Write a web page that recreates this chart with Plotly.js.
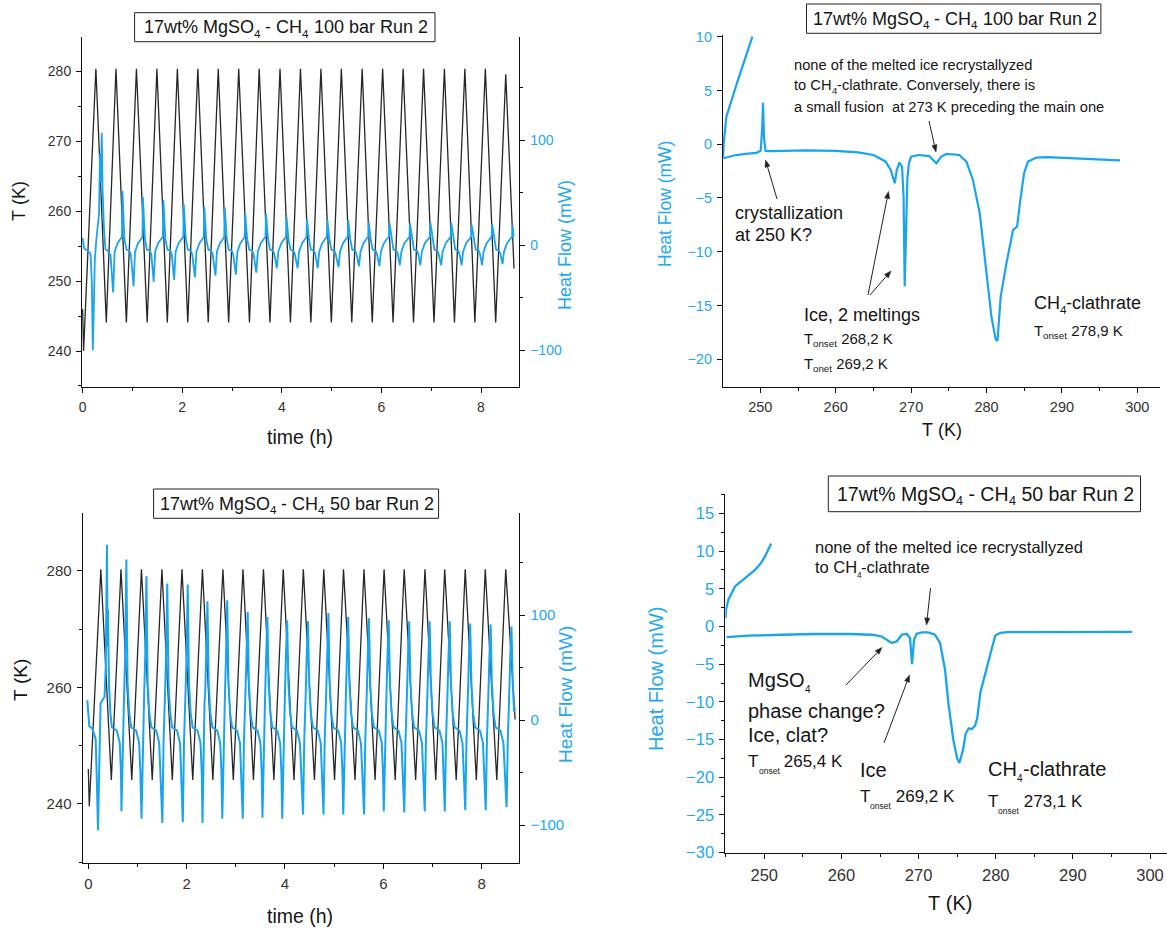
<!DOCTYPE html>
<html><head><meta charset="utf-8">
<script src="https://cdn.plot.ly/plotly-3.0.1.min.js"></script>
<style>html,body{margin:0;padding:0;background:#fff}#chart{width:1167px;height:931px}</style>
</head><body><div id="chart"></div>
<script>
// ---------- Top-left: 100 bar, temperature (K) vs time (h) ----------
const temp100Time = [0, 0.02, 0.267, 0.476, 0.670, 0.879, 1.081, 1.297, 1.492, 1.701, 1.903, 2.112, 2.314, 2.523, 2.724, 2.933, 3.135, 3.351, 3.546, 3.762, 3.964, 4.173, 4.375, 4.584, 4.786, 4.995, 5.196, 5.405, 5.614, 5.816, 6.025, 6.234, 6.436, 6.645, 6.847, 7.056, 7.265, 7.467, 7.676, 7.877, 8.087, 8.295, 8.497, 8.663];
const temp100K = [246, 240, 280.4, 244.1, 280.4, 244.1, 280.4, 244.1, 280.4, 244.1, 280.4, 244.1, 280.4, 244.1, 280.4, 244.1, 280.4, 244.1, 280.4, 244.1, 280.4, 244.1, 280.4, 244.1, 280.4, 244.1, 280.4, 244.1, 280.4, 244.1, 280.4, 244.1, 280.4, 244.1, 280.4, 244.1, 280.4, 244.1, 280.4, 244.1, 280.4, 244.1, 279.6, 251.8];

// ---------- Top-left: 100 bar, heat flow (mW) vs time (h) ----------
const hf100Time = [
0, 0.03, 0.10, 0.16, 0.185, 0.205, 0.225, 0.245, 0.275, 0.33, 0.35, 0.365, 0.385, 0.40, 0.43, 0.46, 0.50, 0.56,
0.613, 0.643, 0.703, 0.763, 0.79, 0.80, 0.84, 0.88, 0.94, 0.97,
1.023, 1.053, 1.113, 1.173, 1.201, 1.211, 1.251, 1.291, 1.351, 1.381,
1.427, 1.457, 1.517, 1.577, 1.612, 1.622, 1.662, 1.702, 1.762, 1.792,
1.838, 1.868, 1.928, 1.988, 2.022, 2.032, 2.072, 2.112, 2.172, 2.202,
2.256, 2.286, 2.346, 2.406, 2.433, 2.443, 2.483, 2.523, 2.583, 2.613,
2.667, 2.697, 2.757, 2.817, 2.844, 2.854, 2.894, 2.934, 2.994, 3.024,
3.078, 3.108, 3.168, 3.228, 3.255, 3.265, 3.305, 3.345, 3.405, 3.435,
3.488, 3.518, 3.578, 3.638, 3.673, 3.683, 3.723, 3.763, 3.823, 3.853,
3.900, 3.930, 3.990, 4.050, 4.084, 4.094, 4.134, 4.174, 4.234, 4.264,
4.317, 4.347, 4.407, 4.467, 4.495, 4.505, 4.545, 4.585, 4.645, 4.675,
4.721, 4.751, 4.811, 4.871, 4.905, 4.915, 4.955, 4.995, 5.055, 5.085,
5.139, 5.169, 5.229, 5.289, 5.323, 5.333, 5.373, 5.413, 5.473, 5.503,
5.550, 5.580, 5.640, 5.700, 5.734, 5.744, 5.784, 5.824, 5.884, 5.914,
5.960, 5.990, 6.050, 6.110, 6.152, 6.162, 6.202, 6.242, 6.302, 6.332,
6.371, 6.401, 6.461, 6.521, 6.563, 6.573, 6.613, 6.653, 6.713, 6.743,
6.782, 6.812, 6.872, 6.932, 6.974, 6.984, 7.024, 7.064, 7.124, 7.154,
7.200, 7.230, 7.290, 7.350, 7.392, 7.402, 7.442, 7.482, 7.542, 7.572,
7.611, 7.641, 7.701, 7.761, 7.803, 7.813, 7.853, 7.893, 7.953, 7.983,
8.022, 8.052, 8.112, 8.172, 8.213, 8.223, 8.263, 8.303, 8.363, 8.393,
8.432, 8.462, 8.522, 8.582, 8.624, 8.634, 8.655];
const hf100Val = [
7, -3, -5, -8, -35, -100, -60, -14, 5, 30, 88, 60, 107, 55, 15, -4, -5, -9,
-45, -6, 2, 6, 8, 52, 6, -4, -5, -9,
-39, -6, 2, 6, 8, 46, 6, -4, -5, -9,
-35, -6, 2, 6, 8, 43, 6, -4, -5, -9,
-33, -6, 2, 6, 8, 39, 6, -4, -5, -9,
-30.5, -6, 2, 6, 8, 37, 6, -4, -5, -9,
-29, -6, 2, 6, 8, 36, 6, -4, -5, -9,
-28, -6, 2, 6, 8, 30, 6, -4, -5, -9,
-26, -6, 2, 6, 8, 30, 6, -4, -5, -9,
-22, -6, 2, 6, 8, 27, 6, -4, -5, -9,
-22, -6, 2, 6, 8, 25, 6, -4, -5, -9,
-22, -6, 2, 6, 8, 24, 6, -4, -5, -9,
-21, -6, 2, 6, 8, 24, 6, -4, -5, -9,
-20, -6, 2, 6, 8, 22.5, 6, -4, -5, -9,
-20, -6, 2, 6, 8, 21.6, 6, -4, -5, -9,
-19, -6, 2, 6, 8, 21, 6, -4, -5, -9,
-19, -6, 2, 6, 8, 21.6, 6, -4, -5, -9,
-19, -6, 2, 6, 8, 21.6, 6, -4, -5, -9,
-19, -6, 2, 6, 8, 19.4, 6, -4, -5, -9,
-19, -6, 2, 6, 8, 20.3, 6, -4, -5, -9,
-18, -6, 2, 6, 8, 19, 8];

// ---------- Top-right: 100 bar DSC, heat flow (mW) vs T (K) ----------
const dsc100T = [245.1, 246.5, 248.0, 249.5, 250.05, 250.25, 250.36, 250.5, 250.7, 251.2, 253, 256, 260, 263, 265, 266.6, 267.3, 267.83, 268.1, 268.45, 268.8, 269.0, 269.15, 269.35, 269.5, 269.7, 270.0, 271.0, 272.4, 273.35, 274.0, 274.7, 276.4, 277.33, 278.2, 279.1, 279.99, 280.65, 281.2, 281.45, 281.88, 282.64, 283.52, 284.05, 284.54, 284.98, 285.5, 286.6, 288, 291, 294, 297.7];
const dsc100HF = [-1.3, -1.05, -0.9, -0.8, -0.6, 1.5, 3.85, 0.5, -0.62, -0.65, -0.62, -0.58, -0.62, -0.75, -1.0, -1.6, -2.4, -3.63, -2.4, -1.7, -2.1, -4.9, -13.2, -8.0, -3.3, -1.8, -1.15, -1.0, -1.1, -1.77, -1.15, -0.9, -1.0, -1.62, -3.32, -6.42, -11.69, -16.03, -18.1, -18.3, -14.17, -11.07, -7.97, -7.66, -4.87, -2.70, -1.62, -1.24, -1.2, -1.3, -1.4, -1.5];
const dsc100UpT = [245.05, 245.15, 245.5, 246.17, 247.04, 247.93, 248.95];
const dsc100UpHF = [-1.2, 0.1, 2.57, 4.12, 5.98, 7.84, 10.0];

// ---------- Bottom-left: 50 bar, temperature (K) vs time (h) ----------
const temp50Time = [0, 0.02, 0.255, 0.468, 0.665, 0.884, 1.081, 1.300, 1.497, 1.708, 1.905, 2.124, 2.321, 2.533, 2.738, 2.949, 3.146, 3.358, 3.562, 3.774, 3.964, 4.183, 4.373, 4.599, 4.789, 5.008, 5.190, 5.424, 5.606, 5.832, 6.015, 6.241, 6.424, 6.657, 6.847, 7.066, 7.248, 7.482, 7.665, 7.891, 8.073, 8.307, 8.489, 8.68];
const temp50K = [246, 239.6, 280.3, 244.1, 280.3, 244.1, 280.3, 244.1, 280.3, 244.1, 280.3, 244.1, 280.3, 244.1, 280.3, 244.1, 280.3, 244.1, 280.3, 244.1, 280.3, 244.1, 280.3, 244.1, 280.3, 244.1, 280.3, 244.1, 280.3, 244.1, 280.3, 244.1, 280.3, 244.1, 280.3, 244.1, 280.3, 244.1, 280.3, 244.1, 280.3, 244.1, 280.3, 254.5];

// ---------- Bottom-left: 50 bar, heat flow (mW) vs time (h) ----------
const hf50Time = [
-0.02, 0.02, 0.08, 0.15, 0.175, 0.197, 0.22, 0.25, 0.29, 0.33, 0.355, 0.38, 0.392, 0.40, 0.42, 0.45, 0.48, 0.58, 0.64, 0.665,
0.674, 0.699, 0.714, 0.729, 0.749, 0.774, 0.799, 0.834, 0.874, 0.974, 1.034, 1.059,
1.082, 1.107, 1.122, 1.137, 1.157, 1.182, 1.207, 1.242, 1.282, 1.382, 1.442, 1.467,
1.506, 1.531, 1.546, 1.561, 1.581, 1.606, 1.631, 1.666, 1.706, 1.806, 1.866, 1.891,
1.922, 1.947, 1.962, 1.977, 1.997, 2.022, 2.047, 2.082, 2.122, 2.222, 2.282, 2.307,
2.323, 2.348, 2.363, 2.378, 2.398, 2.423, 2.448, 2.483, 2.523, 2.623, 2.683, 2.708,
2.725, 2.750, 2.765, 2.780, 2.800, 2.825, 2.850, 2.885, 2.925, 3.025, 3.085, 3.110,
3.141, 3.166, 3.181, 3.196, 3.216, 3.241, 3.266, 3.301, 3.341, 3.441, 3.501, 3.526,
3.542, 3.567, 3.582, 3.597, 3.617, 3.642, 3.667, 3.702, 3.742, 3.842, 3.902, 3.927,
3.944, 3.969, 3.984, 3.999, 4.019, 4.044, 4.069, 4.104, 4.144, 4.244, 4.304, 4.329,
4.367, 4.392, 4.407, 4.422, 4.442, 4.467, 4.492, 4.527, 4.567, 4.667, 4.727, 4.752,
4.783, 4.808, 4.823, 4.838, 4.858, 4.883, 4.908, 4.943, 4.983, 5.083, 5.143, 5.168,
5.185, 5.210, 5.225, 5.240, 5.260, 5.285, 5.310, 5.345, 5.385, 5.485, 5.545, 5.570,
5.608, 5.633, 5.648, 5.663, 5.683, 5.708, 5.733, 5.768, 5.808, 5.908, 5.968, 5.993,
6.009, 6.034, 6.049, 6.064, 6.084, 6.109, 6.134, 6.169, 6.209, 6.309, 6.369, 6.394,
6.426, 6.451, 6.466, 6.481, 6.501, 6.526, 6.551, 6.586, 6.626, 6.726, 6.786, 6.811,
6.842, 6.867, 6.882, 6.897, 6.917, 6.942, 6.967, 7.002, 7.042, 7.142, 7.202, 7.227,
7.250, 7.275, 7.290, 7.305, 7.325, 7.350, 7.375, 7.410, 7.450, 7.550, 7.610, 7.635,
7.666, 7.691, 7.706, 7.721, 7.741, 7.766, 7.791, 7.826, 7.866, 7.966, 8.026, 8.051,
8.082, 8.107, 8.122, 8.137, 8.157, 8.182, 8.207, 8.242, 8.282, 8.382, 8.442, 8.467,
8.506, 8.531, 8.546, 8.561, 8.581, 8.606, 8.631, 8.660, 8.678];
const hf50Val = [
19, -6, -8, -18, -60, -105, -51, 16, 19, 22, 51, 167, 70, 105, 35, 6, -7, -10, -22, -50,
-87, -19, 16, 26, 60, 153, 35, 6, -7, -10, -22, -50,
-94, -19, 16, 26, 60, 137, 35, 6, -7, -10, -22, -50,
-98, -19, 16, 26, 60, 130, 35, 6, -7, -10, -22, -50,
-97, -19, 16, 26, 60, 129, 35, 6, -7, -10, -22, -50,
-98, -19, 16, 26, 60, 113, 35, 6, -7, -10, -22, -50,
-94, -19, 16, 26, 60, 114, 35, 6, -7, -10, -22, -50,
-94, -19, 16, 26, 60, 103, 35, 6, -7, -10, -22, -50,
-93, -19, 16, 26, 60, 98, 35, 6, -7, -10, -22, -50,
-94, -19, 16, 26, 60, 95, 35, 6, -7, -10, -22, -50,
-90, -19, 16, 26, 60, 94, 35, 6, -7, -10, -22, -50,
-90, -19, 16, 26, 60, 102, 35, 6, -7, -10, -22, -50,
-90, -19, 16, 26, 60, 98, 35, 6, -7, -10, -22, -50,
-90, -19, 16, 26, 60, 97, 35, 6, -7, -10, -22, -50,
-87, -19, 16, 26, 60, 95, 35, 6, -7, -10, -22, -50,
-88, -19, 16, 26, 60, 94, 35, 6, -7, -10, -22, -50,
-87, -19, 16, 26, 60, 94, 35, 6, -7, -10, -22, -50,
-87, -19, 16, 26, 60, 94, 35, 6, -7, -10, -22, -50,
-86, -19, 16, 26, 60, 92, 35, 6, -7, -10, -22, -50,
-86, -19, 16, 26, 60, 91, 35, 6, -7, -10, -22, -50,
-83, -19, 16, 26, 60, 89, 35, 8, 12];

// ---------- Bottom-right: 50 bar DSC, heat flow (mW) vs T (K) ----------
const dsc50T = [245.13, 247.93, 252.26, 256.58, 261, 263.93, 265.22, 265.87, 266.52, 267.17, 267.81, 268.46, 268.89, 269.15, 269.41, 269.76, 270.41, 271.26, 272.13, 272.78, 273.43, 273.86, 274.5, 275.0, 275.3, 275.8, 276.1, 276.5, 276.9, 277.3, 277.6, 278.0, 278.6, 279.0, 279.5, 279.95, 280.6, 281.5, 290, 297.7];
const dsc50HF = [-1.41, -1.23, -1.10, -1.0, -1.0, -1.10, -1.33, -1.76, -2.2, -1.99, -1.10, -0.97, -1.54, -5.0, -1.76, -0.97, -0.8, -0.8, -1.10, -2.2, -5.74, -10.16, -15.02, -17.5, -18.1, -16.2, -14.2, -13.5, -13.6, -13.2, -12.2, -8.8, -6.3, -5.0, -2.9, -1.2, -0.85, -0.75, -0.72, -0.72];
const dsc50UpT = [244.98, 245.04, 245.34, 246.2, 247.5, 248.8, 249.5, 250.1, 250.9];
const dsc50UpHF = [1.1, 2.2, 3.54, 5.3, 6.4, 7.5, 8.3, 9.3, 11.0];

// ---------- text pieces: [text, isSubscript] ----------
const title100 = [['17wt% MgSO', 0], ['4', 1], [' - CH', 0], ['4', 1], [' 100 bar Run 2', 0]];
const title50 = [['17wt% MgSO', 0], ['4', 1], [' - CH', 0], ['4', 1], [' 50 bar Run 2', 0]];

// ---------- layout helpers ----------
const W = 1167, H = 931;
const px = x => x / W;
const py = y => 1 - y / H;
const FONT = 'Arial, "Liberation Sans", sans-serif';
const BLUE = '#19A4F0';
const BLUE_TXT = '#22A7F2';
const BLACK = '#262626';
const TICK_TXT = '#333';
const INK = '#151515';

const cv = document.createElement('canvas').getContext('2d');
function measure(t, size) { cv.font = size + 'px ' + FONT; return cv.measureText(t).width; }

function axis(extra) {
  return Object.assign({
    showline: true, linecolor: '#111', linewidth: 1,
    ticks: 'outside', ticklen: 5, tickwidth: 1, tickcolor: '#111',
    showgrid: false, zeroline: false, fixedrange: true,
    ticklabelstandoff: 2
  }, extra);
}
function minor(d, t0) { return {ticks: 'outside', ticklen: 3, tickcolor: '#111', dtick: d, tick0: t0, showgrid: false}; }

const traces = [
  {x: temp100Time, y: temp100K, xaxis: 'x', yaxis: 'y', mode: 'lines', line: {color: BLACK, width: 1.3}, hoverinfo: 'skip'},
  {x: hf100Time, y: hf100Val, xaxis: 'x', yaxis: 'y2', mode: 'lines', line: {color: BLUE, width: 1.8}, hoverinfo: 'skip'},
  {x: dsc100T, y: dsc100HF, xaxis: 'x2', yaxis: 'y3', mode: 'lines', line: {color: BLUE, width: 2.2}, hoverinfo: 'skip'},
  {x: dsc100UpT, y: dsc100UpHF, xaxis: 'x2', yaxis: 'y3', mode: 'lines', line: {color: BLUE, width: 2.2}, hoverinfo: 'skip'},
  {x: temp50Time, y: temp50K, xaxis: 'x3', yaxis: 'y4', mode: 'lines', line: {color: BLACK, width: 1.3}, hoverinfo: 'skip'},
  {x: hf50Time, y: hf50Val, xaxis: 'x3', yaxis: 'y5', mode: 'lines', line: {color: BLUE, width: 2}, hoverinfo: 'skip'},
  {x: dsc50T, y: dsc50HF, xaxis: 'x4', yaxis: 'y6', mode: 'lines', line: {color: BLUE, width: 2.3}, hoverinfo: 'skip'},
  {x: dsc50UpT, y: dsc50UpHF, xaxis: 'x4', yaxis: 'y6', mode: 'lines', line: {color: BLUE, width: 2.3}, hoverinfo: 'skip'}
];

const tf = (s, c) => ({family: FONT, size: s, color: c || TICK_TXT});

const layout = {
  width: W, height: H, margin: {l: 0, r: 0, t: 0, b: 0},
  paper_bgcolor: '#fff', plot_bgcolor: 'rgba(0,0,0,0)', showlegend: false,
  font: {family: FONT, color: '#111'},
  // top-left
  xaxis: axis({domain: [px(82), px(519.4)], anchor: 'y', range: [-0.012, 8.771], dtick: 2, tick0: 0, minor: minor(1, 0), tickfont: tf(14)}),
  yaxis: axis({domain: [py(387), py(37)], anchor: 'x', range: [234.85, 284.95], dtick: 10, tick0: 0, minor: minor(5, 0), tickfont: tf(14)}),
  yaxis2: axis({overlaying: 'y', side: 'right', anchor: 'x', range: [-135, 198.4], dtick: 100, tick0: 0, minor: minor(50, 0), tickfont: tf(14, BLUE_TXT)}),
  // top-right
  xaxis2: axis({domain: [px(722.9), px(1159.8)], anchor: 'y3', range: [245.04, 302.98], dtick: 10, tick0: 0, minor: minor(5, 0), tickfont: tf(14.5)}),
  yaxis3: axis({domain: [py(387), py(35)], anchor: 'x2', range: [-22.58, 10.16], dtick: 5, tick0: 0, tickfont: tf(14.5, BLUE_TXT)}),
  // bottom-left
  xaxis3: axis({domain: [px(82.6), px(519.4)], anchor: 'y4', range: [-0.116, 8.767], dtick: 2, tick0: 0, minor: minor(1, 0), tickfont: tf(15)}),
  yaxis4: axis({domain: [py(862.7), py(513.3)], anchor: 'x3', range: [229.9, 289.9], dtick: 20, tick0: 0, minor: minor(10, 0), tickfont: tf(15)}),
  yaxis5: axis({overlaying: 'y4', side: 'right', anchor: 'x3', range: [-135.9, 196.9], dtick: 100, tick0: 0, minor: minor(50, 0), tickfont: tf(15, BLUE_TXT)}),
  // bottom-right
  xaxis4: axis({domain: [px(725.4), 1], anchor: 'y6', range: [244.96, 302.2], dtick: 10, tick0: 0, minor: minor(5, 0), tickfont: tf(16.5)}),
  yaxis6: axis({domain: [py(852.7), py(494)], anchor: 'x4', range: [-30, 17.56], dtick: 5, tick0: 0, minor: minor(2.5, 0), tickfont: tf(16.5, BLUE_TXT)}),
  annotations: [],
  shapes: []
};

const A = layout.annotations;
const S = layout.shapes;
const nb = t => t.replace(/ /g, '\u00a0');
function txt(text, x, y, size, o) {
  A.push(Object.assign({text: nb(text), x: px(x), y: py(y), xref: 'paper', yref: 'paper', showarrow: false,
    xanchor: 'left', yanchor: 'middle', borderpad: 0, font: {family: FONT, size: size, color: INK}}, o || {}));
}
// text made of normal and subscript pieces, each a real text of its own size
function rich(parts, x, y, size, align, subRatio, dropRatio) {
  const sr = subRatio || 0.65, dr = dropRatio || 0.22;
  const sub = size * sr;
  const widths = parts.map(p => measure(p[0], p[1] ? sub : size));
  const total = widths.reduce((a, b) => a + b, 0);
  let cx = align === 'center' ? x - total / 2 : x;
  const base = y + 0.35 * size;
  parts.forEach((p, i) => {
    if (p[1]) txt(p[0], cx, base + dr * size - 0.35 * sub, sub);
    else txt(p[0], cx, y, size);
    cx += widths[i];
  });
}
function box(x0, y0, x1, y1) {
  S.push({type: 'rect', xref: 'paper', yref: 'paper', x0: px(x0), x1: px(x1), y0: py(y1), y1: py(y0),
    line: {color: '#222', width: 1}, fillcolor: 'rgba(0,0,0,0)'});
}
// arrow drawn as a line shape plus a small filled head (pixel geometry -> paper coords)
function arrow(tipX, tipY, tailX, tailY) {
  const dx = tipX - tailX, dy = tipY - tailY, L = Math.hypot(dx, dy);
  const ux = dx / L, uy = dy / L, nx = -uy, ny = ux;
  const hl = 7, hw = 2.6;
  const bx = tipX - ux * hl, by = tipY - uy * hl;
  S.push({type: 'line', xref: 'paper', yref: 'paper', x0: px(tailX), y0: py(tailY), x1: px(bx), y1: py(by),
    line: {color: '#222', width: 1}});
  S.push({type: 'path', xref: 'paper', yref: 'paper',
    path: 'M ' + px(tipX) + ' ' + py(tipY) + ' L ' + px(bx + nx * hw) + ' ' + py(by + ny * hw) + ' L ' + px(bx - nx * hw) + ' ' + py(by - ny * hw) + ' Z',
    fillcolor: '#222', line: {color: '#222', width: 0.5}});
}
function vlabel(text, x, y, size, color) {
  txt(text, x, y, size, {xanchor: 'center', textangle: -90, font: {family: FONT, size: size, color: color}});
}

// panel titles (boxed)
box(134.6, 12.7, 435, 41.7);   rich(title100, 284.8, 27.2, 18, 'center');
box(806.5, 4, 1100.9, 33.3);   rich(title100, 953.7, 18.7, 18, 'center');
box(153.6, 489, 438.6, 518.3); rich(title50, 296, 503.7, 18, 'center');
box(828.3, 476, 1140.5, 511.7); rich(title50, 984.4, 493.9, 19.5, 'center');

// axis titles
vlabel('T (K)', 19, 201, 18, INK);
vlabel('Heat Flow (mW)', 565, 245, 18, BLUE_TXT);
txt('time (h)', 300, 437, 19.5, {xanchor: 'center'});
vlabel('T (K)', 20, 680, 19, INK);
vlabel('Heat Flow (mW)', 565, 695, 19, BLUE_TXT);
txt('time (h)', 300, 916, 19.5, {xanchor: 'center'});
vlabel('Heat Flow (mW)', 665, 204, 17.5, BLUE_TXT);
txt('T (K)', 942, 430, 18, {xanchor: 'center'});
vlabel('Heat Flow (mW)', 656, 679, 20, BLUE_TXT);
txt('T (K)', 950, 903, 20, {xanchor: 'center'});

// top-right notes
txt('none of the melted ice recrystallyzed', 793.4, 65, 14.7);
rich([['to CH', 0], ['4', 1], ['-clathrate. Conversely, there is', 0]], 793.4, 85, 14.7, 'left');
txt('a small fusion  at 273 K preceding the main one', 793.4, 106.5, 14.7);
arrow(936, 152, 929, 121);
txt('crystallization', 733.8, 213.3, 18);
txt('at 250 K?', 733.8, 235, 18);
arrow(765.5, 160, 777, 199);
txt('Ice, 2 meltings', 802.8, 315, 18);
rich([['T', 0], ['onset', 1], [' 268,2 K', 0]], 802.8, 338, 15, 'left');
rich([['T', 0], ['onet', 1], [' 269,2 K', 0]], 802.8, 363, 15, 'left');
arrow(888.5, 191.5, 868, 295);
arrow(891, 271, 870, 295);
rich([['CH', 0], ['4', 1], ['-clathrate', 0]], 1032.6, 303, 18, 'left');
rich([['T', 0], ['onset', 1], [' 278,9 K', 0]], 1032.6, 330, 15, 'left');

// bottom-right notes
txt('none of the melted ice recrystallyzed', 813.7, 546.7, 16.5);
rich([['to CH', 0], ['4', 1], ['-clathrate', 0]], 813.7, 567.3, 16.5, 'left', 0.5, 0.3);
arrow(926.5, 625, 930.5, 588);
rich([['MgSO', 0], ['4', 1]], 747.2, 680, 20, 'left', 0.5, 0.3);
txt('phase change?', 747.2, 710.7, 20);
txt('Ice, clat?', 747.2, 735, 20);
rich([['T', 0], ['onset', 1], [' 265,4 K', 0]], 747.2, 761.7, 17, 'left', 0.5, 0.35);
arrow(882, 647.5, 846, 685);
txt('Ice', 858.8, 770, 20);
rich([['T', 0], ['onset', 1], [' 269,2 K', 0]], 858.8, 796.7, 17, 'left', 0.5, 0.35);
arrow(909.5, 675, 884, 743);
rich([['CH', 0], ['4', 1], ['-clathrate', 0]], 987.1, 769, 20, 'left', 0.5, 0.3);
rich([['T', 0], ['onset', 1], [' 273,1 K', 0]], 987.1, 801.7, 17, 'left', 0.5, 0.35);

Plotly.newPlot('chart', traces, layout, {staticPlot: true, displayModeBar: false});
</script></body></html>
